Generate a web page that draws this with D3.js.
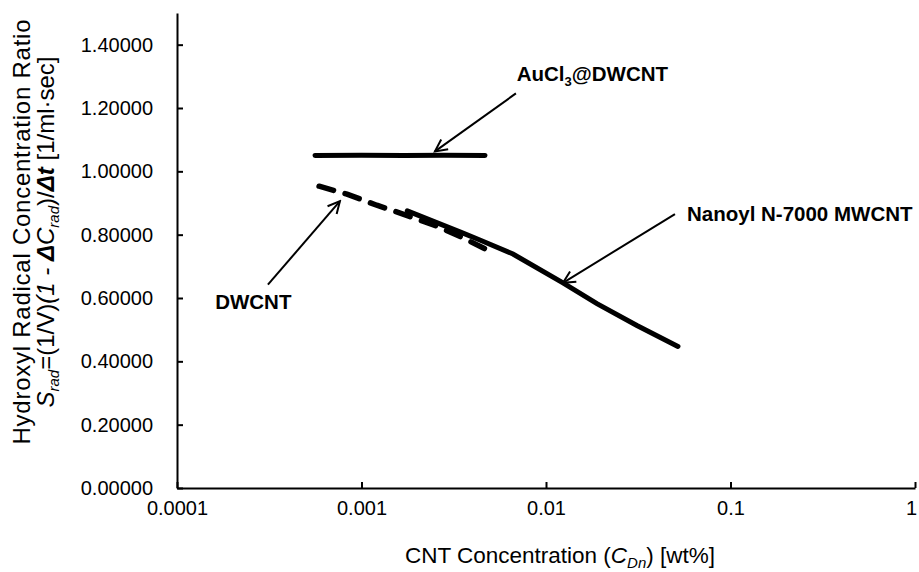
<!DOCTYPE html>
<html>
<head>
<meta charset="utf-8">
<script src="https://cdn.jsdelivr.net/npm/d3@7/dist/d3.min.js"></script>
<style>
  body { margin: 0; background: #fff; }
  text { font-family: "Liberation Sans", Arial, sans-serif; fill: #000; }
</style>
</head>
<body>
<script>
// values
var auclConc  = [0.00056, 0.001, 0.0017, 0.0028, 0.00467];
var auclRatio = [1.050, 1.051, 1.050, 1.051, 1.050];

var dwConc  = [0.000589, 0.000834, 0.00121, 0.00162, 0.00257, 0.00355, 0.00479];
var dwRatio = [0.953, 0.928, 0.893, 0.868, 0.827, 0.790, 0.752];

var mwConc  = [0.00177, 0.00355, 0.00438, 0.00662, 0.01236, 0.01888, 0.0311, 0.0519];
var mwRatio = [0.875, 0.805, 0.783, 0.739, 0.648, 0.582, 0.513, 0.447];

var xTicks = [0.0001, 0.001, 0.01, 0.1, 1];
var yTicks = [0, 0.2, 0.4, 0.6, 0.8, 1.0, 1.2, 1.4];

// annotation arrows: [headX, headY, tailX, tailY] in data units
var arrowAucl = [0.0025, 1.063, 0.00687, 1.246];
var arrowDw   = [0.000764, 0.906, 0.000311, 0.642];
var arrowMw   = [0.01236, 0.648, 0.05, 0.865];

const W = 919, H = 572;
const margin = {left: 177, right: 4, top: 13, bottom: 84};

var svg = d3.select("body").append("svg")
    .attr("width", W)
    .attr("height", H);

var x = d3.scaleLog().domain([0.0001, 1]).range([margin.left, W - margin.right]);
var y = d3.scaleLinear().domain([0, 1.5]).range([H - margin.bottom, margin.top]);

svg.append("defs").append("marker")
    .attr("id", "head")
    .attr("markerUnits", "userSpaceOnUse")
    .attr("markerWidth", 16).attr("markerHeight", 16)
    .attr("viewBox", "0 0 16 16")
    .attr("refX", 14).attr("refY", 8)
    .attr("orient", "auto")
  .append("path")
    .attr("d", "M2,2 L14,8 L2,14")
    .attr("fill", "none")
    .attr("stroke", "#000")
    .attr("stroke-width", 2);

// axes
var xAxis = d3.axisBottom(x).tickValues(xTicks)
    .tickFormat(function(d){ return String(d); })
    .tickSizeInner(-6).tickSizeOuter(0).tickPadding(13);
var yAxis = d3.axisLeft(y).tickValues(yTicks)
    .tickFormat(d3.format(".5f"))
    .tickSizeInner(-6).tickSizeOuter(0).tickPadding(24);

var gx = svg.append("g").attr("transform", "translate(0," + (H - margin.bottom) + ")").call(xAxis);
var gy = svg.append("g").attr("transform", "translate(" + margin.left + ",0)").call(yAxis);

[gx, gy].forEach(function(g){
    g.selectAll("path,line").attr("stroke", "#000").attr("stroke-width", 2);
    g.selectAll("text").attr("font-size", 20).attr("fill", "#000")
        .style("font-family", "'Liberation Sans', Arial, sans-serif");
});
// last x label sits against the right edge
gx.selectAll(".tick text").filter(function(d){ return d === 1; }).attr("dx", -4);

// series
var line = d3.line()
    .x(function(d){ return x(d[0]); })
    .y(function(d){ return y(d[1]); });

function pairs(a, b) { return a.map(function(v, i){ return [v, b[i]]; }); }

svg.append("path")
    .attr("d", line(pairs(auclConc, auclRatio)))
    .attr("fill", "none").attr("stroke", "#000")
    .attr("stroke-width", 5).attr("stroke-linecap", "round");

svg.append("path")
    .attr("d", line(pairs(dwConc, dwRatio)))
    .attr("fill", "none").attr("stroke", "#000")
    .attr("stroke-width", 5.5).attr("stroke-linecap", "round")
    .attr("stroke-dasharray", "15,12");

svg.append("path")
    .attr("d", line(pairs(mwConc, mwRatio)))
    .attr("fill", "none").attr("stroke", "#000")
    .attr("stroke-width", 5).attr("stroke-linecap", "round");

// arrows
[arrowAucl, arrowDw, arrowMw].forEach(function(a){
    svg.append("line")
        .attr("x1", x(a[2])).attr("y1", y(a[3]))
        .attr("x2", x(a[0])).attr("y2", y(a[1]))
        .attr("stroke", "#000").attr("stroke-width", 2)
        .attr("marker-end", "url(#head)");
});

// labels
var t1 = svg.append("text")
    .attr("x", x(0.00694)).attr("y", y(1.284))
    .attr("font-size", 20.5).attr("font-weight", "bold");
t1.append("tspan").text("AuCl");
t1.append("tspan").attr("font-size", 13).attr("dy", 5).text("3");
t1.append("tspan").attr("dy", -5).text("@DWCNT");

svg.append("text")
    .attr("x", x(0.000161)).attr("y", y(0.566))
    .attr("font-size", 20.5).attr("font-weight", "bold")
    .text("DWCNT");

svg.append("text")
    .attr("x", x(0.0581)).attr("y", y(0.843))
    .attr("font-size", 20.5).attr("font-weight", "bold")
    .text("Nanoyl N-7000 MWCNT");

// x title
var xt = svg.append("text")
    .attr("x", 560).attr("y", 563)
    .attr("text-anchor", "middle").attr("font-size", 22.5);
xt.append("tspan").text("CNT Concentration (");
xt.append("tspan").attr("font-style", "italic").text("C");
xt.append("tspan").attr("font-style", "italic").attr("font-size", 15).attr("dy", 5).text("Dn");
xt.append("tspan").attr("dy", -5).text(") [wt%]");

// y title
var cy = 232;
svg.append("text")
    .attr("transform", "translate(30," + cy + ") rotate(-90)")
    .attr("text-anchor", "middle").attr("font-size", 24)
    .attr("textLength", 425).attr("lengthAdjust", "spacing")
    .text("Hydroxyl Radical Concentration Ratio");

var yt = svg.append("text")
    .attr("transform", "translate(54," + cy + ") rotate(-90)")
    .attr("text-anchor", "middle").attr("font-size", 24);
yt.append("tspan").attr("font-style", "italic").text("S");
yt.append("tspan").attr("font-style", "italic").attr("font-size", 15).attr("dy", 5).text("rad");
yt.append("tspan").attr("dy", -5).text("=(1/V)");
yt.append("tspan").attr("font-style", "italic").text("(1 - ");
yt.append("tspan").attr("font-style", "italic").attr("font-weight", "bold").text("\u0394");
yt.append("tspan").attr("font-style", "italic").text("C");
yt.append("tspan").attr("font-style", "italic").attr("font-size", 15).attr("dy", 5).text("rad");
yt.append("tspan").attr("dy", -5).text(")/");
yt.append("tspan").attr("font-style", "italic").attr("font-weight", "bold").text("\u0394t");
yt.append("tspan").text(" [1/ml\u00b7sec]");
</script>
</body>
</html>
